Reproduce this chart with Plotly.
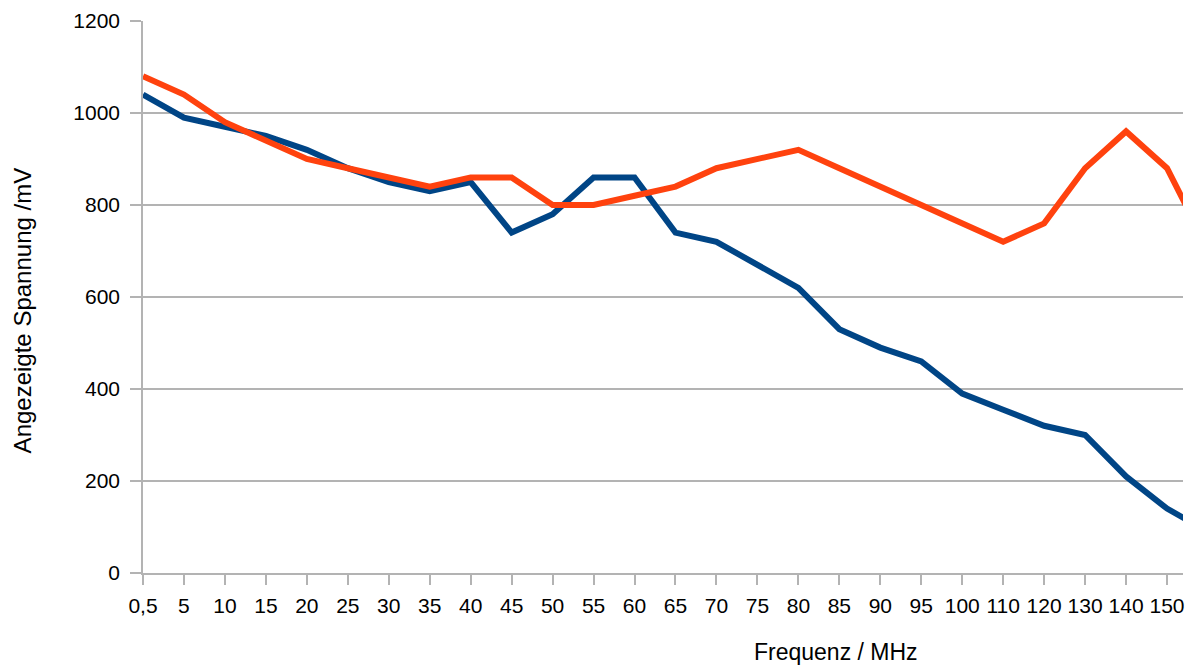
import plotly.graph_objects as go

categories = ["0,5", "5", "10", "15", "20", "25", "30", "35", "40", "45", "50", "55", "60",
              "65", "70", "75", "80", "85", "90", "95", "100", "110", "120", "130", "140", "150", "160"]
blue_values = [1040, 990, 970, 950, 920, 880, 850, 830, 850, 740, 780, 860, 860,
               740, 720, 670, 620, 530, 490, 460, 390, 355, 320, 300, 210, 140, 90]
red_values = [1080, 1040, 980, 940, 900, 880, 860, 840, 860, 860, 800, 800, 820,
              840, 880, 900, 920, 880, 840, 800, 760, 720, 760, 880, 960, 880, 705]
y_ticks = [0, 200, 400, 600, 800, 1000, 1200]

idx = list(range(len(categories)))
font = "Liberation Sans, Arial, sans-serif"

fig = go.Figure()
fig.add_trace(go.Scatter(x=idx, y=blue_values, mode="lines",
                         line=dict(color="#004586", width=6), name="Reihe 1"))
fig.add_trace(go.Scatter(x=idx, y=red_values, mode="lines",
                         line=dict(color="#ff420e", width=6), name="Reihe 2"))

fig.update_layout(
    width=1194, height=671,
    margin=dict(l=143, r=9, t=16, b=98),
    paper_bgcolor="white", plot_bgcolor="white",
    showlegend=False,
    font=dict(family=font, size=21, color="black"),
    annotations=[
        dict(text="Frequenz / MHz", xref="paper", yref="paper",
             x=(837 - 143) / 1042, y=0, yshift=-79, showarrow=False,
             xanchor="center", yanchor="middle", font=dict(size=23, family=font)),
        dict(text="Angezeigte Spannung /mV", xref="paper", yref="paper",
             x=0, xshift=-121, y=(573 - 308) / 557, showarrow=False, textangle=-90,
             xanchor="center", yanchor="middle", font=dict(size=24, family=font)),
    ],
)
fig.update_xaxes(
    range=[0, 25.39], tickvals=idx[:26], ticktext=categories[:26],
    showgrid=False, zeroline=False,
    showline=True, linecolor="#b3b3b3", linewidth=1.5,
    ticks="outside", ticklen=10, tickcolor="#b3b3b3", tickwidth=1.5,
    tickfont=dict(size=21, family=font),
    ticklabelstandoff=3,
)
fig.update_yaxes(
    range=[0, 1200], tickvals=y_ticks,
    showgrid=True, gridcolor="#b3b3b3", gridwidth=1.5, zeroline=False,
    showline=True, linecolor="#b3b3b3", linewidth=1.5,
    ticks="outside", ticklen=11, tickcolor="#b3b3b3", tickwidth=1.5,
    tickfont=dict(size=21, family=font),
    ticklabelstandoff=6,
)

fig.write_html("out.html", config={"displayModeBar": False},
               post_script="document.body.style.margin='0';document.body.style.overflow='hidden';")
